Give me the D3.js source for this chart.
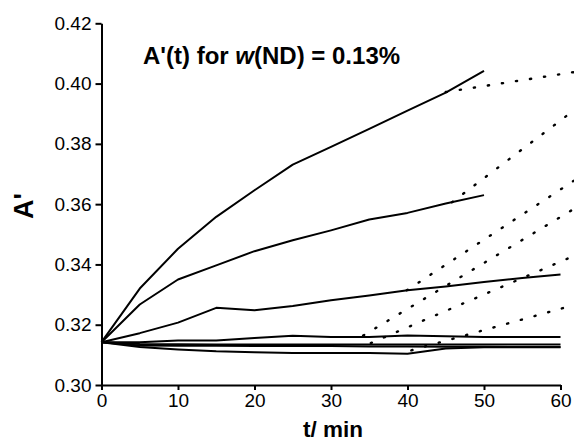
<!DOCTYPE html>
<html>
<head>
<meta charset="utf-8">
<script src="https://cdn.jsdelivr.net/npm/d3@7/dist/d3.min.js"></script>
<style>
body { margin: 0; background: #fff; }
svg { display: block; font-family: "Liberation Sans", Arial, sans-serif; }
</style>
</head>
<body>
<svg id="chart" width="574" height="441"></svg>
<script>
// time points (min)
var times = [0, 5, 10, 15, 20, 25, 30, 35, 40, 45, 50, 55, 60];

var curve1 = [0.3142, 0.3320, 0.3452, 0.3558, 0.3646, 0.3731, 0.3790, 0.3850, 0.3910, 0.3970, 0.4042];
var curve2 = [0.3142, 0.3267, 0.3350, 0.3397, 0.3444, 0.3480, 0.3513, 0.3549, 0.3571, 0.3602, 0.3630];
var curve3 = [0.3142, 0.3172, 0.3207, 0.3256, 0.3248, 0.3262, 0.3281, 0.3297, 0.3314, 0.3327, 0.3342, 0.3355, 0.3367];
var curve4 = [0.3142, 0.3142, 0.3148, 0.3148, 0.3156, 0.3163, 0.3159, 0.3159, 0.3164, 0.3162, 0.3159, 0.3159, 0.3159];
var curve5 = [0.3142, 0.3136, 0.3135, 0.3134, 0.3134, 0.3134, 0.3134, 0.3134, 0.3134, 0.3134, 0.3134, 0.3134, 0.3134];
var curve6 = [0.3142, 0.3131, 0.3130, 0.3130, 0.3129, 0.3129, 0.3129, 0.3128, 0.3128, 0.3127, 0.3127, 0.3126, 0.3126];
var curve7 = [0.3142, 0.3126, 0.3118, 0.3112, 0.3109, 0.3106, 0.3106, 0.3106, 0.3104, 0.3121, 0.3125, 0.3125, 0.3125];
var curves = [curve1, curve2, curve3, curve4, curve5, curve6, curve7];

// dotted extrapolation lines: start / end
var dotStartT = [45.0, 45.8, 39.9, 34.2, 35.2, 40.5];
var dotStartA = [0.3972, 0.3606, 0.3314, 0.3164, 0.3139, 0.3115];
var dotEndT   = [62, 62, 62, 62, 62, 62];
var dotEndA   = [0.4039, 0.3916, 0.3682, 0.3588, 0.3431, 0.3267];

// ticks
var xTicks = [0, 10, 20, 30, 40, 50, 60];
var xMinor = [5, 15, 25, 35, 45, 55];
var yTicks = [0.30, 0.32, 0.34, 0.36, 0.38, 0.40, 0.42];
var yMinor = [0.31, 0.33, 0.35, 0.37, 0.39, 0.41];

var svg = d3.select("#chart");

var x = d3.scaleLinear().domain([0, 60]).range([101.5, 560.5]);
var y = d3.scaleLinear().domain([0.30, 0.42]).range([385, 23.3]);

var line = d3.line()
    .x(function(d) { return x(d[0]); })
    .y(function(d) { return y(d[1]); });

// dotted lines first, solid on top
for (var i = 0; i < dotStartT.length; i++) {
  svg.append("path")
      .attr("d", line([[dotStartT[i], dotStartA[i]], [dotEndT[i], dotEndA[i]]]))
      .attr("fill", "none")
      .attr("stroke", "#000")
      .attr("stroke-width", 2.4)
      .attr("stroke-linecap", "round")
      .attr("stroke-dasharray", "1.2 13");
}

curves.forEach(function(c) {
  var pts = c.map(function(v, j) { return [times[j], v]; });
  svg.append("path")
      .attr("d", line(pts))
      .attr("fill", "none")
      .attr("stroke", "#000")
      .attr("stroke-width", 2)
      .attr("stroke-linejoin", "round");
});

// axes
var gx = svg.append("g").attr("transform", "translate(0," + y(0.30) + ")");
gx.call(d3.axisBottom(x).tickValues(xMinor).tickSize(4).tickSizeOuter(0).tickFormat(""));
gx.call(d3.axisBottom(x).tickValues(xTicks).tickSize(5).tickSizeOuter(0).tickPadding(4).tickFormat(d3.format("d")));

var gy = svg.append("g").attr("transform", "translate(" + x(0) + ",0)");
gy.call(d3.axisLeft(y).tickValues(yMinor).tickSize(4).tickSizeOuter(0).tickFormat(""));
gy.call(d3.axisLeft(y).tickValues(yTicks).tickSize(6).tickSizeOuter(0).tickPadding(4).tickFormat(d3.format(".2f")));

svg.selectAll(".domain, .tick line")
    .attr("stroke", "#000")
    .attr("stroke-width", 2);
svg.selectAll(".tick text")
    .attr("fill", "#000")
    .style("font-family", "'Liberation Sans', Arial, sans-serif")
    .style("font-size", "19px");

// axis titles
svg.append("text")
    .attr("x", 333).attr("y", 437)
    .attr("text-anchor", "middle")
    .style("font-size", "22.5px").style("font-weight", "bold")
    .text("t/ min");

svg.append("text")
    .attr("transform", "translate(33,206) rotate(-90)")
    .attr("text-anchor", "middle")
    .style("font-size", "27px").style("font-weight", "bold")
    .text("A'");

// title
var title = svg.append("text")
    .attr("x", 143).attr("y", 63.5)
    .style("font-size", "24px").style("font-weight", "bold");
title.append("tspan").text("A'(t) for ");
title.append("tspan").style("font-style", "italic").text("w");
title.append("tspan").text("(ND) = 0.13%");
</script>
</body>
</html>
